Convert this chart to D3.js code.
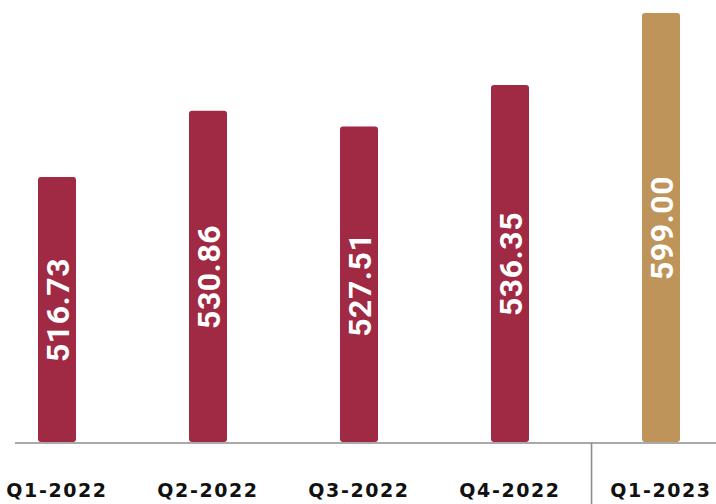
<!DOCTYPE html>
<html>
<head>
<meta charset="utf-8">
<script src="https://cdn.jsdelivr.net/npm/d3@7"></script>
<style>
  html, body { margin: 0; padding: 0; background: #fff; }
  svg { display: block; }
</style>
</head>
<body>
<svg id="chart" width="716" height="504"></svg>
<script>
const quarters = ["Q1-2022", "Q2-2022", "Q3-2022", "Q4-2022", "Q1-2023"];
const values = [516.73, 530.86, 527.51, 536.35, 599.00];
const highlight = [false, false, false, false, true];

const BAR_COLOR = "#a02943";
const HIGHLIGHT_COLOR = "#be945b";
const AXIS_COLOR = "#8c8c8c";
const BASELINE = 443;
const BAR_WIDTH = 38;

const svg = d3.select("#chart");

const x = d3.scalePoint()
    .domain(quarters)
    .range([57, 661]);

// the infographic is not drawn to one linear scale, the last bar is compressed
const y = d3.scaleLinear()
    .domain([460, 540, 600])
    .range([BASELINE, 68, 12]);

// baseline
svg.append("line")
    .attr("x1", 15).attr("x2", 716)
    .attr("y1", BASELINE).attr("y2", BASELINE)
    .attr("stroke", AXIS_COLOR)
    .attr("stroke-width", 1.6);

// divider between years
let divX = x(quarters[3]) + (x(quarters[4]) - x(quarters[3])) * 0.54;
svg.append("line")
    .attr("x1", divX).attr("x2", divX)
    .attr("y1", BASELINE).attr("y2", 504)
    .attr("stroke", AXIS_COLOR)
    .attr("stroke-width", 1.6);

const bars = svg.append("g")
    .selectAll("g")
    .data(values)
    .enter().append("g");

bars.append("rect")
    .attr("x", (d, i) => x(quarters[i]) - BAR_WIDTH / 2)
    .attr("y", (d) => y(d))
    .attr("width", BAR_WIDTH)
    .attr("height", (d) => BASELINE - 1 - y(d))
    .attr("rx", 3)
    .attr("fill", (d, i) => highlight[i] ? HIGHLIGHT_COLOR : BAR_COLOR);

bars.append("text")
    .attr("transform", (d, i) => {
        let cx = x(quarters[i]),
            cy = (y(d) + BASELINE) / 2;
        return "translate(" + cx + "," + cy + ") rotate(-90)";
    })
    .attr("text-anchor", "middle")
    .attr("dy", "0.36em")
    .attr("fill", "#fff")
    .style("font-family", "Roboto, sans-serif")
    .style("font-weight", 700)
    .style("font-size", "32px")
    .style("letter-spacing", "0.5px")
    .text((d) => d.toFixed(2));

svg.append("g")
    .selectAll("text")
    .data(quarters)
    .enter().append("text")
        .attr("x", (d) => x(d))
        .attr("y", 497)
        .attr("text-anchor", "middle")
        .attr("fill", "#111")
        .style("font-family", "'DejaVu Sans', sans-serif")
        .style("font-weight", 700)
        .style("font-size", "19px")
        .style("letter-spacing", "1.6px")
        .text((d) => d);
</script>
</body>
</html>
